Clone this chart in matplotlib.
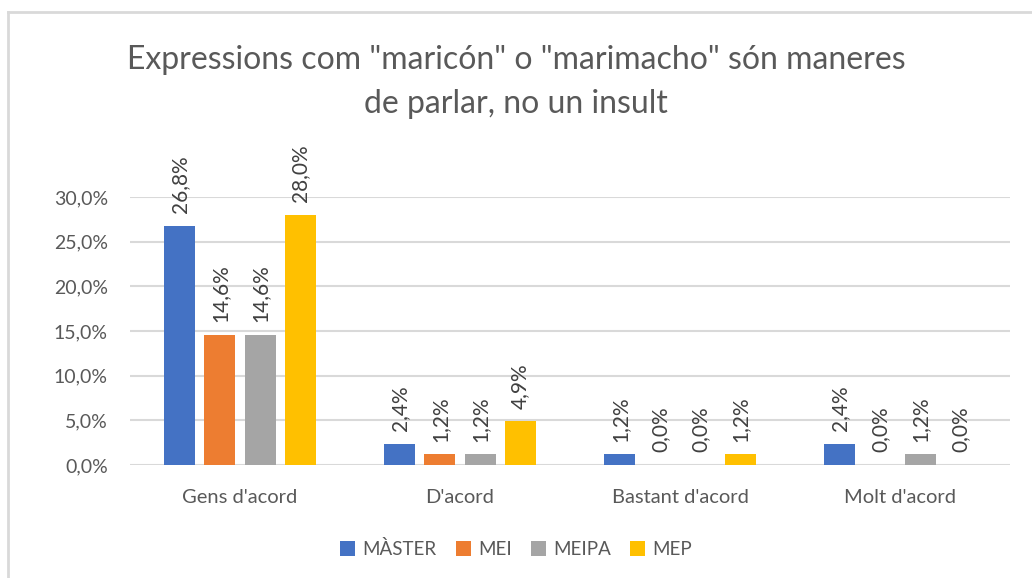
import numpy as np
import matplotlib
matplotlib.use("Agg")
import matplotlib.pyplot as plt
from matplotlib.lines import Line2D
from matplotlib.patches import Patch

plt.rcParams['font.family'] = ['Lato', 'DejaVu Sans']

# Data
categories = ["Gens d'acord", "D'acord", "Bastant d'acord", "Molt d'acord"]
series = ["MÀSTER", "MEI", "MEIPA", "MEP"]
values = {
    "MÀSTER": [26.8, 2.4, 1.2, 2.4],
    "MEI": [14.6, 1.2, 0.0, 0.0],
    "MEIPA": [14.6, 1.2, 0.0, 1.2],
    "MEP": [28.0, 4.9, 1.2, 0.0],
}
colors = ["#4472C4", "#ED7D31", "#A5A5A5", "#FFC000"]
yticks = [0, 5, 10, 15, 20, 25, 30]

text_col = "#595959"
grid_col = "#D9D9D9"

fig = plt.figure(figsize=(10.32, 5.78), dpi=100)
ax = fig.add_axes([130 / 1032, 1 - 465 / 578, 880 / 1032, (465 - 197) / 578])

x = np.arange(len(categories))
width = 0.141
step = 0.182
for i, name in enumerate(series):
    pos = x + (i - 1.5) * step
    bars = ax.bar(pos, values[name], width, color=colors[i], zorder=3)
    for xp, v in zip(pos, values[name]):
        ax.annotate(f"{v:.1f}%".replace(".", ","), (xp, v), xytext=(0, 9),
                    textcoords="offset points", rotation=90, ha="center", va="bottom",
                    fontsize=15, color="#404040", annotation_clip=False)

ax.set_xlim(-0.5, len(categories) - 0.5)
ax.set_ylim(0, 30)
ax.set_yticks(yticks)
ax.set_yticklabels([f"{t:.1f}%".replace(".", ",") for t in yticks], fontsize=14, color=text_col)
ax.set_xticks(x)
ax.set_xticklabels(categories, fontsize=14.5, color=text_col)
ax.tick_params(axis="both", length=0)
ax.tick_params(axis="y", pad=16)
ax.tick_params(axis="x", pad=17)
ax.yaxis.grid(True, color=grid_col, linewidth=1.5, zorder=0)
for s in ax.spines.values():
    s.set_visible(False)

fig.text(0.5, 1 - 60 / 578, "Expressions com \"maricón\" o \"marimacho\" són maneres",
         ha="center", va="center", fontsize=23, color=text_col)
fig.text(0.5, 1 - 104 / 578, "de parlar, no un insult",
         ha="center", va="center", fontsize=23, color=text_col)

handles = [Patch(facecolor=c, edgecolor="none") for c in colors]
fig.legend(handles, series, loc="center", bbox_to_anchor=(0.5, 1 - 549 / 578), ncol=4,
           frameon=False, fontsize=13.5, labelcolor=text_col, handlelength=0.8,
           handleheight=0.8, handletextpad=0.4, columnspacing=1.0)

# chart border (top and left edges visible)
fig.add_artist(Line2D([8 / 1032, 1], [1 - 12 / 578, 1 - 12 / 578], color=grid_col, linewidth=2,
                      transform=fig.transFigure))
fig.add_artist(Line2D([8 / 1032, 8 / 1032], [0, 1 - 12 / 578], color=grid_col, linewidth=2,
                      transform=fig.transFigure))

fig.savefig("out.png", dpi=100)
